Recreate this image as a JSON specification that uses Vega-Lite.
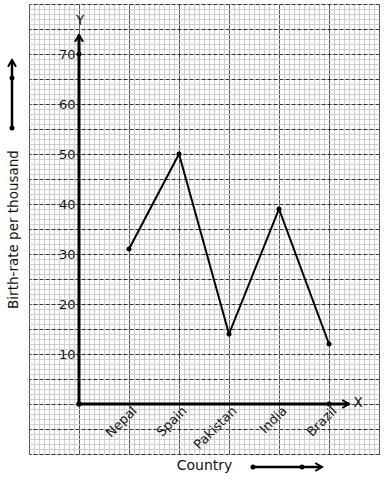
{
  "$schema": "https://vega.github.io/schema/vega-lite/v6.json",
  "width": 350,
  "height": 450,
  "autosize": {"type": "none"},
  "padding": {"left": 29, "top": 4, "right": 5, "bottom": 26},
  "background": "white",
  "config": {
    "view": {"stroke": "#444", "strokeWidth": 1},
    "font": "DejaVu Sans",
    "axis": {"labelFont": "DejaVu Sans", "titleFont": "DejaVu Sans"},
    "text": {"font": "DejaVu Sans"}
  },
  "data": {
    "values": [
      {"country": "Nepal", "order": 1, "rate": 31},
      {"country": "Spain", "order": 2, "rate": 50},
      {"country": "Pakistan", "order": 3, "rate": 14},
      {"country": "India", "order": 4, "rate": 39},
      {"country": "Brazil", "order": 5, "rate": 12}
    ]
  },
  "resolve": {"axis": {"x": "independent", "y": "independent"}},
  "layer": [
    {
      "mark": {"type": "point", "opacity": 0},
      "encoding": {
        "x": {"field": "order", "type": "quantitative",
          "scale": {"domain": [-1, 6], "nice": false, "zero": false},
          "axis": {"orient": "bottom", "grid": true, "gridColor": "#cdcdcd", "gridWidth": 1, "tickCount": 70,
            "labels": false, "ticks": false, "domain": false,
            "title": "Country", "titleFontSize": 14, "titleFontWeight": "normal", "titleColor": "#111", "titlePadding": 4}},
        "y": {"field": "rate", "type": "quantitative",
          "scale": {"domain": [-10, 80], "nice": false, "zero": false},
          "axis": {"orient": "left", "grid": true, "gridColor": "#cdcdcd", "gridWidth": 1, "tickCount": 90,
            "labels": false, "ticks": false, "domain": false,
            "title": "Birth-rate per thousand", "titleFontSize": 13.5, "titleFontWeight": "normal", "titleColor": "#111", "titlePadding": 9}}
      }
    },
    {
      "mark": {"type": "point", "opacity": 0},
      "encoding": {
        "x": {"field": "order", "type": "quantitative",
          "axis": {"orient": "top", "grid": true, "gridColor": "#555", "gridWidth": 1, "tickCount": 7,
            "labels": false, "ticks": false, "domain": false, "title": null}},
        "y": {"field": "rate", "type": "quantitative",
          "axis": {"orient": "right", "grid": true, "gridColor": "#333", "gridWidth": 1, "gridDash": [4, 2], "tickCount": 18,
            "labels": false, "ticks": false, "domain": false, "title": null}}
      }
    },
    {
      "mark": {"type": "point", "opacity": 0},
      "encoding": {
        "x": {"field": "order", "type": "quantitative",
          "axis": {"orient": "bottom", "offset": -50, "values": [1, 2, 3, 4, 5], "zindex": 1,
            "labelExpr": "['','Nepal','Spain','Pakistan','India','Brazil'][datum.value]",
            "labelAngle": -45, "labelAlign": "right", "labelBaseline": "top", "labelOffset": 1, "labelPadding": 0,
            "labelFontSize": 13, "labelColor": "white", "labelOverlap": false, "labelBound": false,
            "grid": false, "ticks": false, "domain": false, "title": null,
            "encode": {"labels": {
              "enter": {"stroke": {"value": "white"}, "strokeWidth": {"value": 4}, "strokeJoin": {"value": "round"}, "strokeOpacity": {"value": 1}},
              "update": {"stroke": {"value": "white"}, "strokeWidth": {"value": 4}, "strokeJoin": {"value": "round"}, "strokeOpacity": {"value": 1}}}}}},
        "y": {"field": "rate", "type": "quantitative",
          "axis": {"orient": "left", "offset": -50, "values": [10, 20, 30, 40, 50, 60, 70], "zindex": 1,
            "labelFontSize": 13, "labelPadding": 4, "labelColor": "white",
            "grid": false, "ticks": false, "domain": false, "title": null,
            "encode": {"labels": {
              "enter": {"stroke": {"value": "white"}, "strokeWidth": {"value": 4}, "strokeJoin": {"value": "round"}, "strokeOpacity": {"value": 1}},
              "update": {"stroke": {"value": "white"}, "strokeWidth": {"value": 4}, "strokeJoin": {"value": "round"}, "strokeOpacity": {"value": 1}}}}}}
      }
    },
    {
      "mark": {"type": "line", "color": "black", "strokeWidth": 2},
      "encoding": {
        "x": {"field": "order", "type": "quantitative",
          "axis": {"orient": "bottom", "offset": -50, "values": [1, 2, 3, 4, 5], "zindex": 1,
            "labelExpr": "['','Nepal','Spain','Pakistan','India','Brazil'][datum.value]",
            "labelAngle": -45, "labelAlign": "right", "labelBaseline": "top", "labelOffset": 1, "labelPadding": 0,
            "labelFontSize": 13, "labelColor": "#111", "labelOverlap": false, "labelBound": false,
            "grid": false, "ticks": false, "domain": false, "title": null}},
        "y": {"field": "rate", "type": "quantitative",
          "axis": {"orient": "left", "offset": -50, "values": [10, 20, 30, 40, 50, 60, 70], "zindex": 1,
            "labelFontSize": 13, "labelPadding": 4, "labelColor": "#111",
            "grid": false, "ticks": false, "domain": false, "title": null}}
      }
    },
    {
      "mark": {"type": "point", "filled": true, "color": "black", "size": 25, "opacity": 1},
      "encoding": {
        "x": {"field": "order", "type": "quantitative", "axis": null},
        "y": {"field": "rate", "type": "quantitative", "axis": null}
      }
    },
    {
      "data": {"values": [{}]},
      "mark": {"type": "rule", "color": "black", "strokeWidth": 3},
      "encoding": {
        "x": {"datum": 0, "type": "quantitative", "axis": null},
        "y": {"datum": 0, "type": "quantitative", "axis": null},
        "y2": {"datum": 73.8}
      }
    },
    {
      "data": {"values": [{}]},
      "mark": {"type": "rule", "color": "black", "strokeWidth": 3},
      "encoding": {
        "x": {"datum": 0, "type": "quantitative", "axis": null},
        "x2": {"datum": 5.4},
        "y": {"datum": 0, "type": "quantitative", "axis": null}
      }
    },
    {
      "data": {"values": [{}]},
      "mark": {"type": "point", "shape": "M-1,1.7L0,0L1,1.7", "filled": false, "stroke": "black", "strokeWidth": 2, "size": 64, "opacity": 1},
      "encoding": {
        "x": {"datum": 0, "type": "quantitative", "axis": null},
        "y": {"datum": 73.8, "type": "quantitative", "axis": null}
      }
    },
    {
      "data": {"values": [{}]},
      "mark": {"type": "point", "shape": "M-1.7,-1L0,0L-1.7,1", "filled": false, "stroke": "black", "strokeWidth": 2, "size": 64, "opacity": 1},
      "encoding": {
        "x": {"datum": 5.4, "type": "quantitative", "axis": null},
        "y": {"datum": 0, "type": "quantitative", "axis": null}
      }
    },
    {
      "data": {"values": [{}]},
      "mark": {"type": "point", "filled": true, "color": "black", "size": 25, "opacity": 1},
      "encoding": {
        "x": {"datum": 0, "type": "quantitative", "axis": null},
        "y": {"datum": 70, "type": "quantitative", "axis": null}
      }
    },
    {
      "data": {"values": [{}]},
      "mark": {"type": "point", "filled": true, "color": "black", "size": 30, "opacity": 1},
      "encoding": {
        "x": {"datum": 0, "type": "quantitative", "axis": null},
        "y": {"datum": 0, "type": "quantitative", "axis": null}
      }
    },
    {
      "data": {"values": [{}]},
      "mark": {"type": "point", "filled": true, "color": "black", "size": 25, "opacity": 1},
      "encoding": {
        "x": {"datum": 5, "type": "quantitative", "axis": null},
        "y": {"datum": 0, "type": "quantitative", "axis": null}
      }
    },
    {
      "data": {"values": [{}]},
      "mark": {"type": "text", "text": "Y", "fontSize": 13.5, "color": "#111", "align": "center", "baseline": "middle"},
      "encoding": {
        "x": {"datum": 0.02, "type": "quantitative", "axis": null},
        "y": {"datum": 76.6, "type": "quantitative", "axis": null}
      }
    },
    {
      "data": {"values": [{}]},
      "mark": {"type": "text", "text": "X", "fontSize": 13.5, "color": "#111", "align": "center", "baseline": "middle"},
      "encoding": {
        "x": {"datum": 5.58, "type": "quantitative", "axis": null},
        "y": {"datum": 0.3, "type": "quantitative", "axis": null}
      }
    },
    {
      "data": {"values": [{}]},
      "mark": {"type": "rule", "color": "black", "strokeWidth": 2.5},
      "encoding": {
        "x": {"datum": -1.34, "type": "quantitative", "axis": null},
        "y": {"datum": 55.2, "type": "quantitative", "axis": null},
        "y2": {"datum": 68.8}
      }
    },
    {
      "data": {"values": [{}]},
      "mark": {"type": "point", "shape": "M-1,1.7L0,0L1,1.7", "filled": false, "stroke": "black", "strokeWidth": 2, "size": 64, "opacity": 1},
      "encoding": {
        "x": {"datum": -1.34, "type": "quantitative", "axis": null},
        "y": {"datum": 68.8, "type": "quantitative", "axis": null}
      }
    },
    {
      "data": {"values": [{}]},
      "mark": {"type": "point", "filled": true, "color": "black", "size": 25, "opacity": 1},
      "encoding": {
        "x": {"datum": -1.34, "type": "quantitative", "axis": null},
        "y": {"datum": 65.2, "type": "quantitative", "axis": null}
      }
    },
    {
      "data": {"values": [{}]},
      "mark": {"type": "point", "filled": true, "color": "black", "size": 25, "opacity": 1},
      "encoding": {
        "x": {"datum": -1.34, "type": "quantitative", "axis": null},
        "y": {"datum": 55.2, "type": "quantitative", "axis": null}
      }
    },
    {
      "data": {"values": [{}]},
      "mark": {"type": "rule", "color": "black", "strokeWidth": 2.5},
      "encoding": {
        "x": {"datum": 3.48, "type": "quantitative", "axis": null},
        "x2": {"datum": 4.86},
        "y": {"datum": -12.6, "type": "quantitative", "axis": null}
      }
    },
    {
      "data": {"values": [{}]},
      "mark": {"type": "point", "shape": "M-1.7,-1L0,0L-1.7,1", "filled": false, "stroke": "black", "strokeWidth": 2, "size": 64, "opacity": 1},
      "encoding": {
        "x": {"datum": 4.86, "type": "quantitative", "axis": null},
        "y": {"datum": -12.6, "type": "quantitative", "axis": null}
      }
    },
    {
      "data": {"values": [{}]},
      "mark": {"type": "point", "filled": true, "color": "black", "size": 25, "opacity": 1},
      "encoding": {
        "x": {"datum": 3.48, "type": "quantitative", "axis": null},
        "y": {"datum": -12.6, "type": "quantitative", "axis": null}
      }
    },
    {
      "data": {"values": [{}]},
      "mark": {"type": "point", "filled": true, "color": "black", "size": 25, "opacity": 1},
      "encoding": {
        "x": {"datum": 4.46, "type": "quantitative", "axis": null},
        "y": {"datum": -12.6, "type": "quantitative", "axis": null}
      }
    }
  ]
}
